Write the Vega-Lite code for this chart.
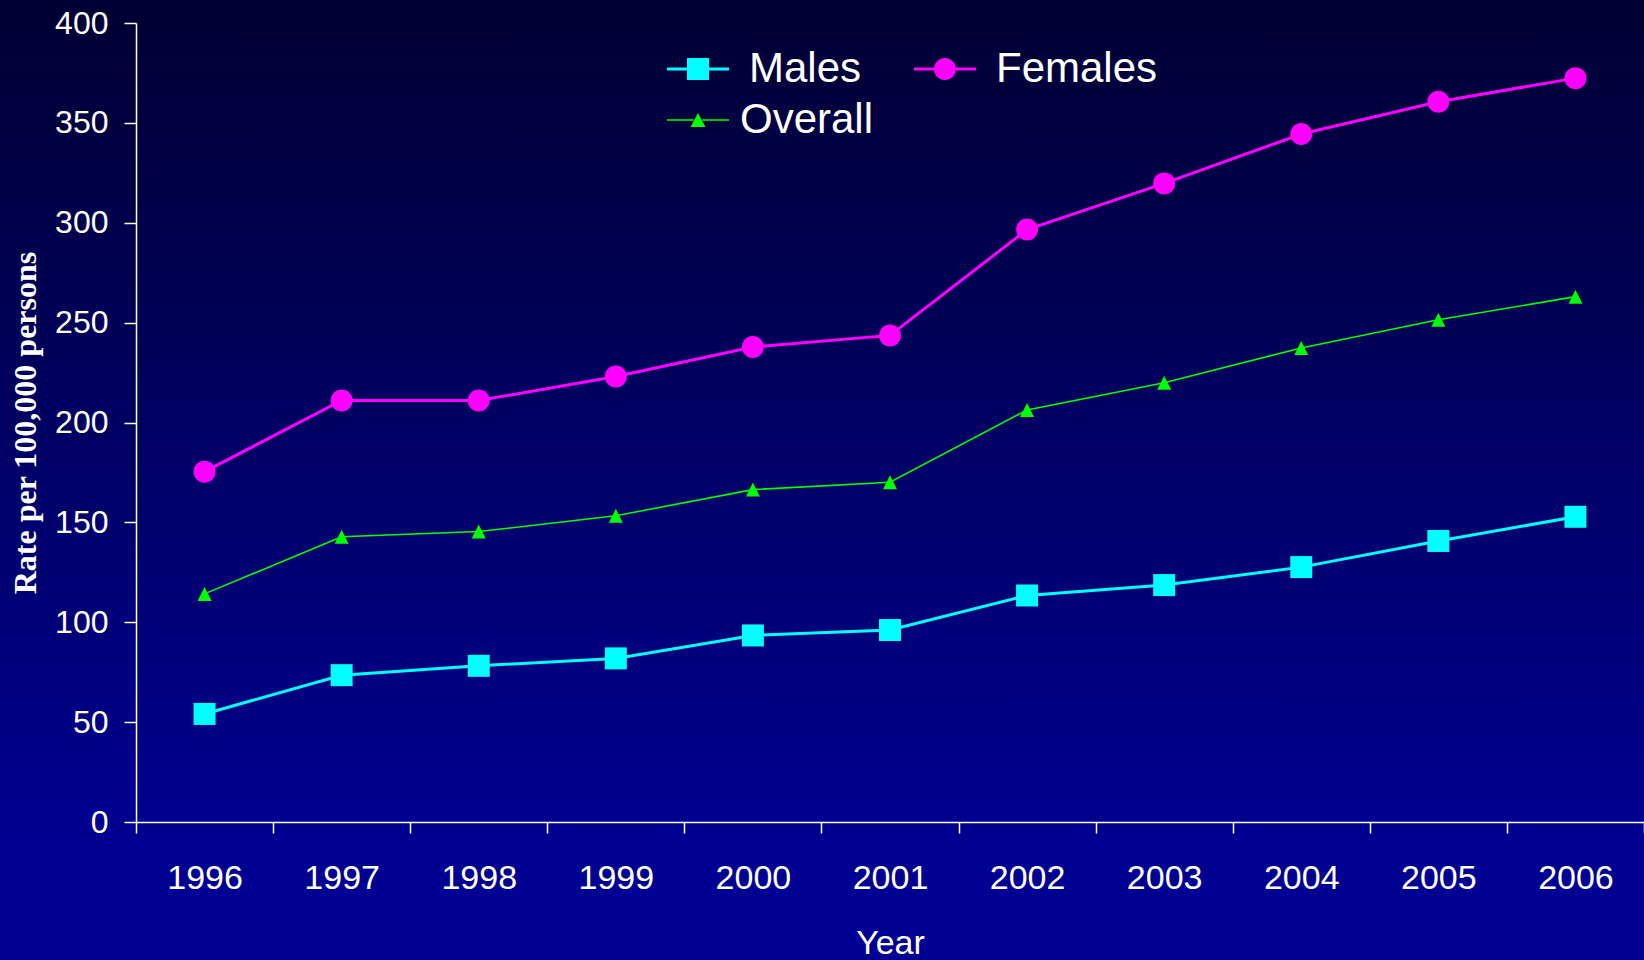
{
  "$schema": "https://vega.github.io/schema/vega-lite/v6.json",
  "width": 1644,
  "height": 960,
  "autosize": {"type": "none"},
  "padding": 0,
  "background": "#000033",
  "view": {
    "stroke": null,
    "fill": {
      "gradient": "linear", "x1": 0, "y1": 0, "x2": 0, "y2": 1,
      "stops": [
        {"offset": 0, "color": "#000033"},
        {"offset": 0.88, "color": "#000092"},
        {"offset": 1, "color": "#000094"}
      ]
    }
  },
  "data": {
    "values": [
      {"year": 1996, "series": "Males", "rate": 54.1},
      {"year": 1997, "series": "Males", "rate": 73.5},
      {"year": 1998, "series": "Males", "rate": 78.2},
      {"year": 1999, "series": "Males", "rate": 81.9},
      {"year": 2000, "series": "Males", "rate": 93.4},
      {"year": 2001, "series": "Males", "rate": 96.1},
      {"year": 2002, "series": "Males", "rate": 113.4},
      {"year": 2003, "series": "Males", "rate": 118.6},
      {"year": 2004, "series": "Males", "rate": 127.6},
      {"year": 2005, "series": "Males", "rate": 140.7},
      {"year": 2006, "series": "Males", "rate": 152.8},
      {"year": 1996, "series": "Females", "rate": 175.4},
      {"year": 1997, "series": "Females", "rate": 211.0},
      {"year": 1998, "series": "Females", "rate": 211.0},
      {"year": 1999, "series": "Females", "rate": 223.0},
      {"year": 2000, "series": "Females", "rate": 237.8},
      {"year": 2001, "series": "Females", "rate": 243.6},
      {"year": 2002, "series": "Females", "rate": 296.6},
      {"year": 2003, "series": "Females", "rate": 319.7},
      {"year": 2004, "series": "Females", "rate": 344.4},
      {"year": 2005, "series": "Females", "rate": 360.6},
      {"year": 2006, "series": "Females", "rate": 372.4},
      {"year": 1996, "series": "Overall", "rate": 114.2},
      {"year": 1997, "series": "Overall", "rate": 142.8},
      {"year": 1998, "series": "Overall", "rate": 145.4},
      {"year": 1999, "series": "Overall", "rate": 153.3},
      {"year": 2000, "series": "Overall", "rate": 166.4},
      {"year": 2001, "series": "Overall", "rate": 170.1},
      {"year": 2002, "series": "Overall", "rate": 206.3},
      {"year": 2003, "series": "Overall", "rate": 219.9},
      {"year": 2004, "series": "Overall", "rate": 237.3},
      {"year": 2005, "series": "Overall", "rate": 251.4},
      {"year": 2006, "series": "Overall", "rate": 263.0}
    ]
  },
  "encoding": {
    "x": {
      "field": "year", "type": "ordinal",
      "scale": {"type": "band", "range": [136, 1644], "paddingInner": 0, "paddingOuter": 0},
      "axis": {
        "orient": "bottom", "offset": -138, "tickBand": "extent",
        "tickSize": 11, "labelPadding": 28, "labelAngle": 0,
        "labelFontSize": 34, "titleFontSize": 34, "titleFontWeight": "normal",
        "titlePadding": 31, "title": "Year"
      }
    },
    "y": {
      "field": "rate", "type": "quantitative",
      "scale": {"domain": [0, 400], "range": [822, 23], "nice": false},
      "axis": {
        "orient": "left", "offset": -136,
        "values": [0, 50, 100, 150, 200, 250, 300, 350, 400],
        "tickSize": 12, "labelPadding": 16, "labelFontSize": 32,
        "title": "Rate per 100,000 persons",
        "titleFont": "Liberation Serif", "titleFontWeight": "bold", "titleFontSize": 32,
        "titlePadding": 12
      }
    },
    "color": {
      "field": "series", "type": "nominal",
      "scale": {"domain": ["Males", "Females", "Overall"], "range": ["#00FFFF", "#FF00FF", "#00FF00"]},
      "legend": {
        "orient": "none", "legendX": 677, "legendY": 48, "direction": "horizontal",
        "title": null, "columns": 2, "columnPadding": 39, "rowPadding": 9,
        "padding": 0, "symbolSize": 484, "symbolStrokeWidth": 0,
        "labelFontSize": 42, "labelOffset": 30, "labelLimit": 400, "labelColor": "white",
        "encode": {
          "symbols": {
            "update": {
              "shape": {"signal": "datum.value === 'Males' ? 'M-2.82,-0.14H-1V0.14H-2.82Z M1,-0.14H2.82V0.14H1Z M-1,-1H1V1H-1Z' : datum.value === 'Females' ? 'M-2.82,-0.14H-1V0.14H-2.82Z M1,-0.14H2.82V0.14H1Z M-1,0A1,1 0 1,1 1,0A1,1 0 1,1 -1,0Z' : 'M-2.82,-0.07H-0.4V0.07H-2.82Z M0.4,-0.07H2.82V0.07H0.4Z M0,-0.64L0.68,0.64H-0.68Z'"},
              "size": {"value": 484},
              "fill": {"scale": "color", "field": "value"},
              "stroke": {"value": "transparent"},
              "strokeWidth": {"value": 0},
              "opacity": {"value": 1}
            }
          },
          "labels": {
            "update": {"dx": {"signal": "datum.value === 'Overall' ? -9 : 0"}}
          }
        }
      }
    }
  },
  "layer": [
    {
      "mark": {"type": "line"},
      "encoding": {
        "strokeWidth": {
          "condition": {"test": "datum.series === 'Overall'", "value": 1.6},
          "value": 3
        }
      }
    },
    {
      "mark": {"type": "point", "filled": true, "opacity": 1},
      "encoding": {
        "shape": {
          "condition": [
            {"test": "datum.series === 'Males'", "value": "square"},
            {"test": "datum.series === 'Females'", "value": "circle"}
          ],
          "value": "M0,-1L1,1H-1Z"
        },
        "size": {
          "condition": {"test": "datum.series === 'Overall'", "value": 196},
          "value": 484
        }
      }
    }
  ],
  "config": {
    "font": "Liberation Sans, Arial, sans-serif",
    "axis": {
      "grid": false, "domainColor": "white", "tickColor": "white",
      "labelColor": "white", "titleColor": "white",
      "domainWidth": 1.5, "tickWidth": 1.5,
      "labelFont": "Liberation Sans, Arial, sans-serif",
      "titleFont": "Liberation Sans, Arial, sans-serif"
    },
    "legend": {"labelFont": "Liberation Sans, Arial, sans-serif"}
  }
}
